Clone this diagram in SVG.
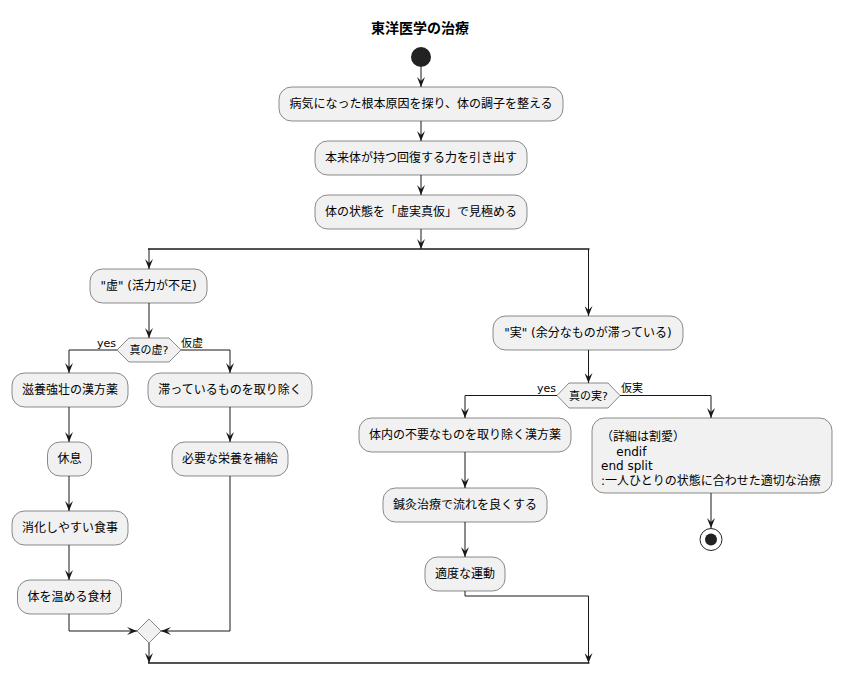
<svg xmlns="http://www.w3.org/2000/svg" width="841" height="674" viewBox="0 0 841 674">
<defs>
<style>
.box{fill:#F1F1F1;stroke:#181818;stroke-width:0.5}
.t{font-family:"DejaVu Sans","Noto Sans CJK JP",sans-serif;font-size:12px;fill:#000}
.c{text-anchor:middle}
.s{font-family:"DejaVu Sans","Noto Sans CJK JP",sans-serif;font-size:11px;fill:#000}
.ln{fill:none;stroke:#181818;stroke-width:1}
.bar{fill:none;stroke:#181818;stroke-width:1.5}
.ar{marker-end:url(#ah)}
</style>
<marker id="ah" markerUnits="userSpaceOnUse" markerWidth="10" markerHeight="8" refX="10" refY="4" orient="auto" viewBox="0 0 10 8">
<path d="M0,0 L10,4 L0,8 L4,4 Z" fill="#181818"/>
</marker>
</defs>
<rect width="841" height="674" fill="#FFFFFF"/>
<text x="420" y="33" text-anchor="middle" font-family="DejaVu Sans,'Noto Sans CJK JP',sans-serif" font-size="14" font-weight="bold">東洋医学の治療</text>

<g id="connectors">
<path class="ln ar" d="M421,67 V87"/>
<path class="ln ar" d="M421,121 V141"/>
<path class="ln ar" d="M421,175 V195"/>
<path class="ln ar" d="M421,229 V249"/>
<path class="bar" d="M148,249 H589.5"/>
<path class="ln ar" d="M149,249 V269"/>
<path class="ln ar" d="M588.5,249 V316"/>
<path class="ln ar" d="M149,303 V338"/>
<path class="ln ar" d="M117,350 H69 V373"/>
<path class="ln ar" d="M181,350 H230 V373"/>
<path class="ln ar" d="M69,407 V442"/>
<path class="ln ar" d="M230,407 V442"/>
<path class="ln ar" d="M69,476 V511"/>
<path class="ln ar" d="M69,545 V580"/>
<path class="ln ar" d="M69,614 V631 H137"/>
<path class="ln ar" d="M230,476 V631 H161"/>
<path class="ln ar" d="M149,643 V663"/>
<path class="bar" d="M148,663 H589.5"/>
<path class="ln ar" d="M588.5,350 V383"/>
<path class="ln ar" d="M557,395.5 H465 V418"/>
<path class="ln ar" d="M620,395.5 H711 V418"/>
<path class="ln ar" d="M465,452 V488"/>
<path class="ln ar" d="M465,522 V557"/>
<path class="ln ar" d="M465,591 V596 H588.5 V663"/>
<path class="ln ar" d="M711,493 V528"/>
<text class="s" x="116" y="347" text-anchor="end">yes</text>
<text class="s" x="181" y="347">仮虚</text>
<text class="s" x="556" y="392" text-anchor="end">yes</text>
<text class="s" x="621" y="392">仮実</text>
</g>

<g id="start"><circle cx="421" cy="57" r="10" fill="#222222"/></g>

<g id="n1"><rect class="box" x="279" y="87" width="284" height="34" rx="12.5"/><text class="t c" x="421" y="108">病気になった根本原因を探り、体の調子を整える</text></g>
<g id="n2"><rect class="box" x="315" y="141" width="212" height="34" rx="12.5"/><text class="t c" x="421" y="162">本来体が持つ回復する力を引き出す</text></g>
<g id="n3"><rect class="box" x="315" y="195" width="212" height="34" rx="12.5"/><text class="t c" x="421" y="216">体の状態を「虚実真仮」で見極める</text></g>

<g id="kyo"><rect class="box" x="90" y="269" width="117" height="34" rx="12.5"/><text class="t c" x="148.5" y="290">"虚" (活力が不足)</text></g>
<g id="d1"><polygon class="box" points="117,350 129,338 169,338 181,350 169,362 129,362"/><text class="s c" x="149" y="354">真の虚?</text></g>
<g id="n4"><rect class="box" x="12" y="373" width="116" height="34" rx="12.5"/><text class="t c" x="70" y="394">滋養強壮の漢方薬</text></g>
<g id="n5"><rect class="box" x="148" y="373" width="164" height="34" rx="12.5"/><text class="t c" x="230" y="394">滞っているものを取り除く</text></g>
<g id="n6"><rect class="box" x="47.5" y="442" width="44" height="34" rx="12.5"/><text class="t c" x="69.5" y="463">休息</text></g>
<g id="n7"><rect class="box" x="172" y="442" width="116" height="34" rx="12.5"/><text class="t c" x="230" y="463">必要な栄養を補給</text></g>
<g id="n8"><rect class="box" x="12" y="511" width="116" height="34" rx="12.5"/><text class="t c" x="70" y="532">消化しやすい食事</text></g>
<g id="n9"><rect class="box" x="17.5" y="580" width="104" height="34" rx="12.5"/><text class="t c" x="69.5" y="601">体を温める食材</text></g>
<g id="merge"><polygon class="box" points="149,619 161,631 149,643 137,631"/></g>

<g id="jitsu"><rect class="box" x="493" y="316" width="190" height="34" rx="12.5"/><text class="t c" x="588" y="337">"実" (余分なものが滞っている)</text></g>
<g id="d2"><polygon class="box" points="557,395.5 569,383 608,383 620,395.5 608,408 569,408"/><text class="s c" x="588.5" y="400">真の実?</text></g>
<g id="n10"><rect class="box" x="359" y="418" width="212" height="34" rx="12.5"/><text class="t c" x="465" y="439">体内の不要なものを取り除く漢方薬</text></g>
<g id="n11"><rect class="box" x="383" y="488" width="164" height="34" rx="12.5"/><text class="t c" x="465" y="509">鍼灸治療で流れを良くする</text></g>
<g id="n12"><rect class="box" x="425" y="557" width="80" height="34" rx="12.5"/><text class="t c" x="465" y="578">適度な運動</text></g>
<g id="n13"><rect class="box" x="592" y="418" width="240" height="75" rx="12.5"/>
<text class="t" x="601" y="441" xml:space="preserve">（詳細は割愛）</text>
<text class="t" x="601" y="455.5" xml:space="preserve">    endif</text>
<text class="t" x="601" y="470" xml:space="preserve">end split</text>
<text class="t" x="601" y="484.5" xml:space="preserve">:一人ひとりの状態に合わせた適切な治療</text>
</g>
<g id="end"><circle cx="711" cy="539.5" r="11" fill="none" stroke="#222222" stroke-width="1"/><circle cx="711" cy="539.5" r="6" fill="#222222"/></g>
</svg>
